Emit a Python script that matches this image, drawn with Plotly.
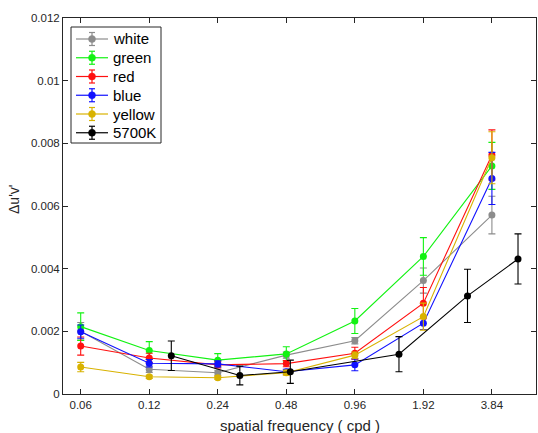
import plotly.graph_objects as go

# Spatial frequencies (cycles per degree)
freq = [0.06, 0.12, 0.24, 0.48, 0.96, 1.92, 3.84]
freq_5700k = [0.15, 0.3, 0.5, 1.5, 3.0, 5.0]

# Colour discrimination thresholds (delta u'v') and error bar half-lengths
white = [0.0020, 0.00079, 0.00068, 0.00124, 0.00170, 0.00362, 0.00571]
white_err = [0.00028, 0.00010, 0.00008, 0.00010, 0.00010, 0.00040, 0.00060]

green = [0.00215, 0.00139, 0.00108, 0.00128, 0.00233, 0.00439, 0.00728]
green_err = [0.00044, 0.00028, 0.00021, 0.00023, 0.00040, 0.00060, 0.00075]

red = [0.00153, 0.00115, 0.00093, 0.00097, 0.00130, 0.00290, 0.00763]
red_err = [0.00029, 0.00015, 0.00010, 0.00010, 0.00019, 0.00050, 0.00080]

blue = [0.00199, 0.00098, 0.00096, 0.00071, 0.00093, 0.00226, 0.00688]
blue_err = [0.00021, 0.00012, 0.00010, 0.00008, 0.00019, 0.00020, 0.00083]

yellow = [0.00086, 0.00055, 0.00052, 0.00068, 0.00124, 0.00247, 0.00754]
yellow_err = [0.00015, 0.00005, 0.00005, 0.00008, 0.00010, 0.00043, 0.00083]

k5700 = [0.00122, 0.00059, 0.00071, 0.00127, 0.00313, 0.00431]
k5700_err = [0.00047, 0.00030, 0.00037, 0.00056, 0.00085, 0.00080]

tick_vals = [0.06, 0.12, 0.24, 0.48, 0.96, 1.92, 3.84]
tick_text = ["0.06", "0.12", "0.24", "0.48", "0.96", "1.92", "3.84"]

series = [
    ("white", freq, white, white_err, "#8c8c8c"),
    ("green", freq, green, green_err, "#12f212"),
    ("red", freq, red, red_err, "#ff1010"),
    ("blue", freq, blue, blue_err, "#1010ff"),
    ("yellow", freq, yellow, yellow_err, "#d8b200"),
    ("5700K", freq_5700k, k5700, k5700_err, "#000000"),
]

W, H = 538, 433
M_L, M_R, M_T, M_B = 63, 2, 18, 39
PLOT_W = W - M_L - M_R
PLOT_H = H - M_T - M_B

axis_color = "#262626"
font_family = "Liberation Sans, Arial, Helvetica, sans-serif"

fig = go.Figure()
for name, x, y, err, color in series:
    fig.add_trace(go.Scatter(
        x=x, y=y, name=name, mode="lines+markers", showlegend=False,
        line=dict(color=color, width=1.1),
        marker=dict(color=color, size=7, symbol="circle"),
        error_y=dict(type="data", array=err, visible=True,
                     color=color, thickness=1.1, width=3.5),
    ))


# Pixel -> paper coordinate helpers for the legend and axis titles
def px(xp):
    return (xp - M_L) / PLOT_W


def py(yp):
    return (H - M_B - yp) / PLOT_H


# Legend box drawn with shapes so each entry shows its error-bar glyph
shapes = [dict(type="rect", xref="paper", yref="paper",
               x0=px(71), x1=px(161), y0=py(143), y1=py(27),
               line=dict(color=axis_color, width=1), fillcolor="white",
               layer="above")]
annotations = []
row0, row_gap = 39.0, 18.75
for i, (name, _, _, _, color) in enumerate(series):
    yc = row0 + i * row_gap
    line = dict(color=color, width=1.2)
    shapes.append(dict(type="line", xref="paper", yref="paper",
                       x0=px(76), x1=px(108), y0=py(yc), y1=py(yc),
                       line=line, layer="above"))
    shapes.append(dict(type="line", xref="paper", yref="paper",
                       x0=px(92), x1=px(92), y0=py(yc - 6.5), y1=py(yc + 6.5),
                       line=line, layer="above"))
    for dy in (-6.5, 6.5):
        shapes.append(dict(type="line", xref="paper", yref="paper",
                           x0=px(89), x1=px(95), y0=py(yc + dy), y1=py(yc + dy),
                           line=line, layer="above"))
    shapes.append(dict(type="circle", xref="paper", yref="paper",
                       x0=px(88.5), x1=px(95.5), y0=py(yc + 3.5), y1=py(yc - 3.5),
                       line=dict(color=color, width=0.5), fillcolor=color,
                       layer="above"))
    annotations.append(dict(text=name, xref="paper", yref="paper",
                            x=px(111), y=py(yc), xanchor="left", yanchor="middle",
                            showarrow=False,
                            font=dict(size=15, color="#000000", family=font_family)))

# Axis titles
annotations.append(dict(text="spatial frequency ( cpd )", xref="paper", yref="paper",
                        x=px(300), y=py(425), xanchor="center", yanchor="middle",
                        showarrow=False,
                        font=dict(size=15, color=axis_color, family=font_family)))
annotations.append(dict(text="Δu'v'", xref="paper", yref="paper",
                        x=px(14), y=py(200), xanchor="center", yanchor="middle",
                        textangle=-90, showarrow=False,
                        font=dict(size=14, color=axis_color, family=font_family)))

fig.update_layout(
    width=W, height=H,
    margin=dict(l=M_L, r=M_R, t=M_T, b=M_B),
    paper_bgcolor="white", plot_bgcolor="white",
    font=dict(family=font_family, size=11, color=axis_color),
    showlegend=False,
    shapes=shapes,
    annotations=annotations,
    xaxis=dict(
        type="log", range=[-1.2996, 0.778],
        tickvals=tick_vals, ticktext=tick_text,
        ticks="inside", ticklen=5, tickcolor=axis_color,
        showline=True, linecolor=axis_color, linewidth=1, mirror="ticks",
        showgrid=False, zeroline=False,
        tickfont=dict(size=11.5, color=axis_color),
    ),
    yaxis=dict(
        range=[0, 0.012],
        tickvals=[0, 0.002, 0.004, 0.006, 0.008, 0.01, 0.012],
        ticktext=["0", "0.002", "0.004", "0.006", "0.008", "0.01", "0.012"],
        ticks="inside", ticklen=5, tickcolor=axis_color,
        showline=True, linecolor=axis_color, linewidth=1, mirror="ticks",
        showgrid=False, zeroline=False,
        tickfont=dict(size=11.5, color=axis_color),
    ),
)

fig.write_html("out.html")
